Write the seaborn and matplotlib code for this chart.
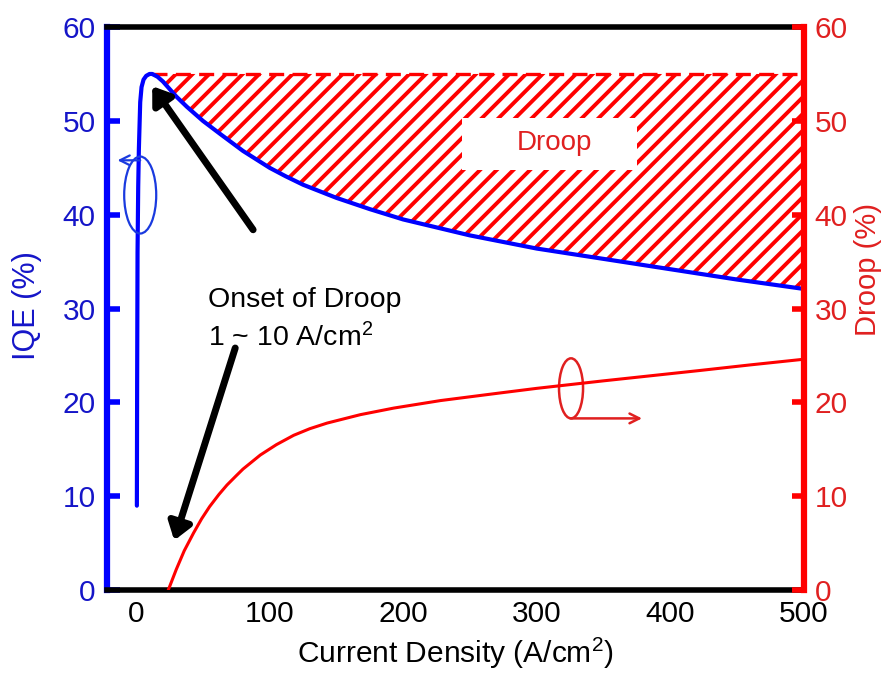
import numpy as np
import pandas as pd
import matplotlib
matplotlib.use("Agg")
import matplotlib.pyplot as plt
from matplotlib.patches import Ellipse, Rectangle
import seaborn as sns

# IQE versus current density (left axis)
current_iqe = [0.5, 0.7, 1, 1.5, 2, 3, 4, 5.5, 7.5, 10, 12, 16, 20, 25, 30, 38, 50,
               63, 80, 100, 112, 125, 150, 175, 200, 250, 300, 350, 400, 450, 500]
iqe = [9, 22, 36, 43, 47, 52, 53.6, 54.4, 54.8, 55.0, 55.0, 54.7, 54.2, 53.4, 52.6,
       51.5, 50.0, 48.6, 46.8, 45.0, 44.1, 43.2, 41.8, 40.6, 39.5, 37.8, 36.4, 35.3,
       34.2, 33.1, 32.1]

# Droop versus current density (right axis)
current_droop = [24, 30, 36, 43, 49, 55, 62, 68, 75, 80, 93, 105, 118, 130, 143, 168,
                 193, 228, 272, 300, 350, 422, 460, 500]
droop = [0, 2.2, 4.2, 6.1, 7.6, 8.9, 10.2, 11.2, 12.2, 12.9, 14.4, 15.5, 16.5, 17.2,
         17.8, 18.7, 19.4, 20.2, 21.0, 21.5, 22.3, 23.4, 24.0, 24.6]

peak_iqe = 55.0
x_ticks = [0, 100, 200, 300, 400, 500]
y_ticks = [0, 10, 20, 30, 40, 50, 60]

sns.set_style("white")
plt.rcParams["font.family"] = ["Liberation Sans", "DejaVu Sans"]
plt.rcParams["mathtext.fontset"] = "custom"
plt.rcParams["mathtext.rm"] = "Liberation Sans"
plt.rcParams["mathtext.it"] = "Liberation Sans:italic"
plt.rcParams["hatch.linewidth"] = 2.8

BLUE = "#0000ff"
BLUE_TXT = "#1515c8"
RED = "#ff0000"
RED_TXT = "#e02020"

df_iqe = pd.DataFrame({"J": current_iqe, "IQE": iqe})
df_droop = pd.DataFrame({"J": current_droop, "Droop": droop})

fig = plt.figure(figsize=(8.83, 6.76), dpi=100)
ax = fig.add_axes([0.121, 0.127, 0.789, 0.833])

# hatched droop region between the IQE curve and its peak value
after_peak = df_iqe[df_iqe["J"] >= 12]
ax.fill_between(after_peak["J"], after_peak["IQE"], peak_iqe, facecolor="none",
                edgecolor=RED, hatch="//", linewidth=0, zorder=1)
ax.plot([after_peak["J"].iloc[0], after_peak["J"].iloc[-1]], [peak_iqe, peak_iqe],
        color=RED, lw=2.4, dashes=(4.5, 2.5), zorder=2)

sns.lineplot(data=df_iqe, x="J", y="IQE", ax=ax, color=BLUE, lw=3.0,
             estimator=None, sort=False, zorder=3)

# label box inside the hatched area
ax.add_patch(Rectangle((244, 44.8), 131, 5.5, facecolor="white", edgecolor="none", zorder=4))
ax.text(313.5, 47.6, "Droop", color=RED_TXT, fontsize=20, ha="center", va="center", zorder=5)

ax.set_xlim(-22, 500)
ax.set_ylim(0, 60)
ax.set_xticks(x_ticks)
ax.set_yticks(y_ticks)
ax.set_xlabel("Current Density (A/cm$^2$)", fontsize=21.5, color="black", labelpad=6)
ax.set_ylabel("IQE (%)", fontsize=22, color=BLUE_TXT, labelpad=10)
ax.yaxis.set_label_coords(-0.093, 0.505)

ax.tick_params(axis="x", direction="in", length=9, width=4, colors="black",
               labelsize=21.5, pad=7)
ax.tick_params(axis="y", direction="in", length=9, width=4, color=BLUE,
               labelcolor=BLUE_TXT, labelsize=21.5, pad=8)
for side in ["top", "bottom"]:
    ax.spines[side].set_color("black")
    ax.spines[side].set_linewidth(4)
ax.spines["left"].set_color(BLUE)
ax.spines["left"].set_linewidth(4.5)
ax.spines["right"].set_visible(False)

# right axis: droop
ax2 = ax.twinx()
sns.lineplot(data=df_droop, x="J", y="Droop", ax=ax2, color=RED, lw=2.2,
             estimator=None, sort=False)
ax2.set_ylim(0, 60)
ax2.set_yticks(y_ticks)
ax2.set_ylabel("Droop (%)", fontsize=21, color=RED_TXT, labelpad=10)
ax2.yaxis.set_label_coords(1.073, 0.57)
ax2.tick_params(axis="y", direction="in", length=9, width=4, color=RED,
                labelcolor=RED_TXT, labelsize=21.5, pad=8)
for side in ["top", "bottom", "left"]:
    ax2.spines[side].set_visible(False)
ax2.spines["right"].set_color(RED)
ax2.spines["right"].set_linewidth(4.5)

# curve markers: ellipses with arrows pointing to the matching axis
thin = "->,head_length=0.7,head_width=0.35"
ax.add_patch(Ellipse((3, 42.1), 24, 8.2, fill=False, edgecolor="#1a3adf", lw=1.6, zorder=6))
ax.annotate("", xy=(-14, 45.8), xytext=(3, 45.8),
            arrowprops=dict(arrowstyle=thin, color="#1a3adf", lw=1.6,
                            shrinkA=0, shrinkB=0), zorder=6)
ax.add_patch(Ellipse((325.8, 21.5), 18, 6.4, fill=False, edgecolor=RED_TXT, lw=1.8, zorder=6))
ax.annotate("", xy=(379, 18.3), xytext=(325.6, 18.3),
            arrowprops=dict(arrowstyle=thin, color=RED_TXT, lw=1.8,
                            shrinkA=0, shrinkB=0), zorder=6)

# onset annotation with two heavy arrows
ax.text(54, 28.8, "Onset of Droop\n1 ~ 10 A/cm$^2$", fontsize=20.5, color="black",
        ha="left", va="center", linespacing=1.45)
heavy = dict(arrowstyle="-|>,head_length=1.0,head_width=0.7", color="black",
             lw=5, mutation_scale=10, shrinkA=0, shrinkB=0)
ax.annotate("", xy=(12, 53.7), xytext=(87.6, 38.4), arrowprops=heavy, zorder=7)
ax.annotate("", xy=(28.5, 5.3), xytext=(74.2, 25.8), arrowprops=heavy, zorder=7)

fig.savefig("out.png", dpi=100)
